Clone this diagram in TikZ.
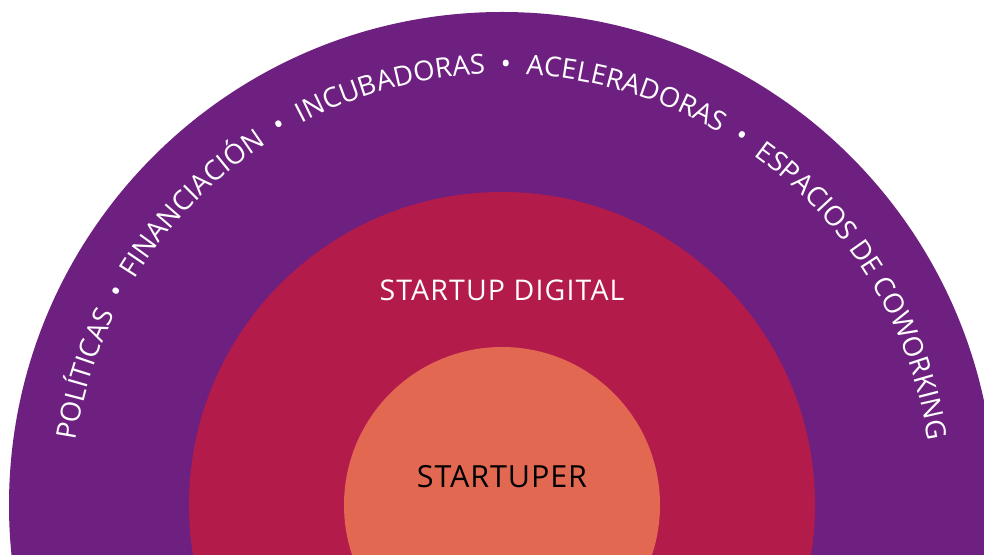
\documentclass[tikz,border=0pt]{standalone}
\usepackage{fontspec}
\setmainfont{Open Sans}
\usetikzlibrary{decorations.text}
\definecolor{ringouter}{HTML}{6E2080}
\definecolor{ringmiddle}{HTML}{B31B4B}
\definecolor{ringinner}{HTML}{E26852}
% padded separator used between the ecosystem labels
\newcommand{\ringsep}{\hspace{15pt}•\hspace{15pt}}
\tikzset{
  ring/.style={draw=none},
  ringlabel/.style={inner sep=0pt, anchor=center}
}
\begin{document}
\begin{tikzpicture}[x=1pt,y=1pt]
  \useasboundingbox (0,0) rectangle (984,554);
  \clip (0,0) rectangle (984,554);
  \coordinate (c) at (502,49);
  % three nested discs
  \fill[ring, ringouter]  (c) circle[radius=493];
  \fill[ring, ringmiddle] (c) circle[radius=313];
  \fill[ring, ringinner]  (c) circle[radius=158];
  % ecosystem labels along the outer ring
  \path[decorate, decoration={text along path, text align=center, text color=white,
      text={|\fontsize{27.5}{33}\selectfont|POLÍTICAS{\ringsep}FINANCIACIÓN{\ringsep}INCUBADORAS{\ringsep}ACELERADORAS{\ringsep}ESPACIOS DE COWORKING}}]
    (c) ++(172:431) arc[start angle=172, end angle=8, radius=431];
  \node[ringlabel, text=white, font={\fontsize{28.5}{34}\selectfont\addfontfeature{LetterSpace=4}}] (digital) at (502,264) {STARTUP DIGITAL};
  \node[ringlabel, text=black, font={\fontsize{30.5}{36}\selectfont\addfontfeature{LetterSpace=3}}] (startuper) at (502,77) {STARTUPER};
\end{tikzpicture}
\end{document}
